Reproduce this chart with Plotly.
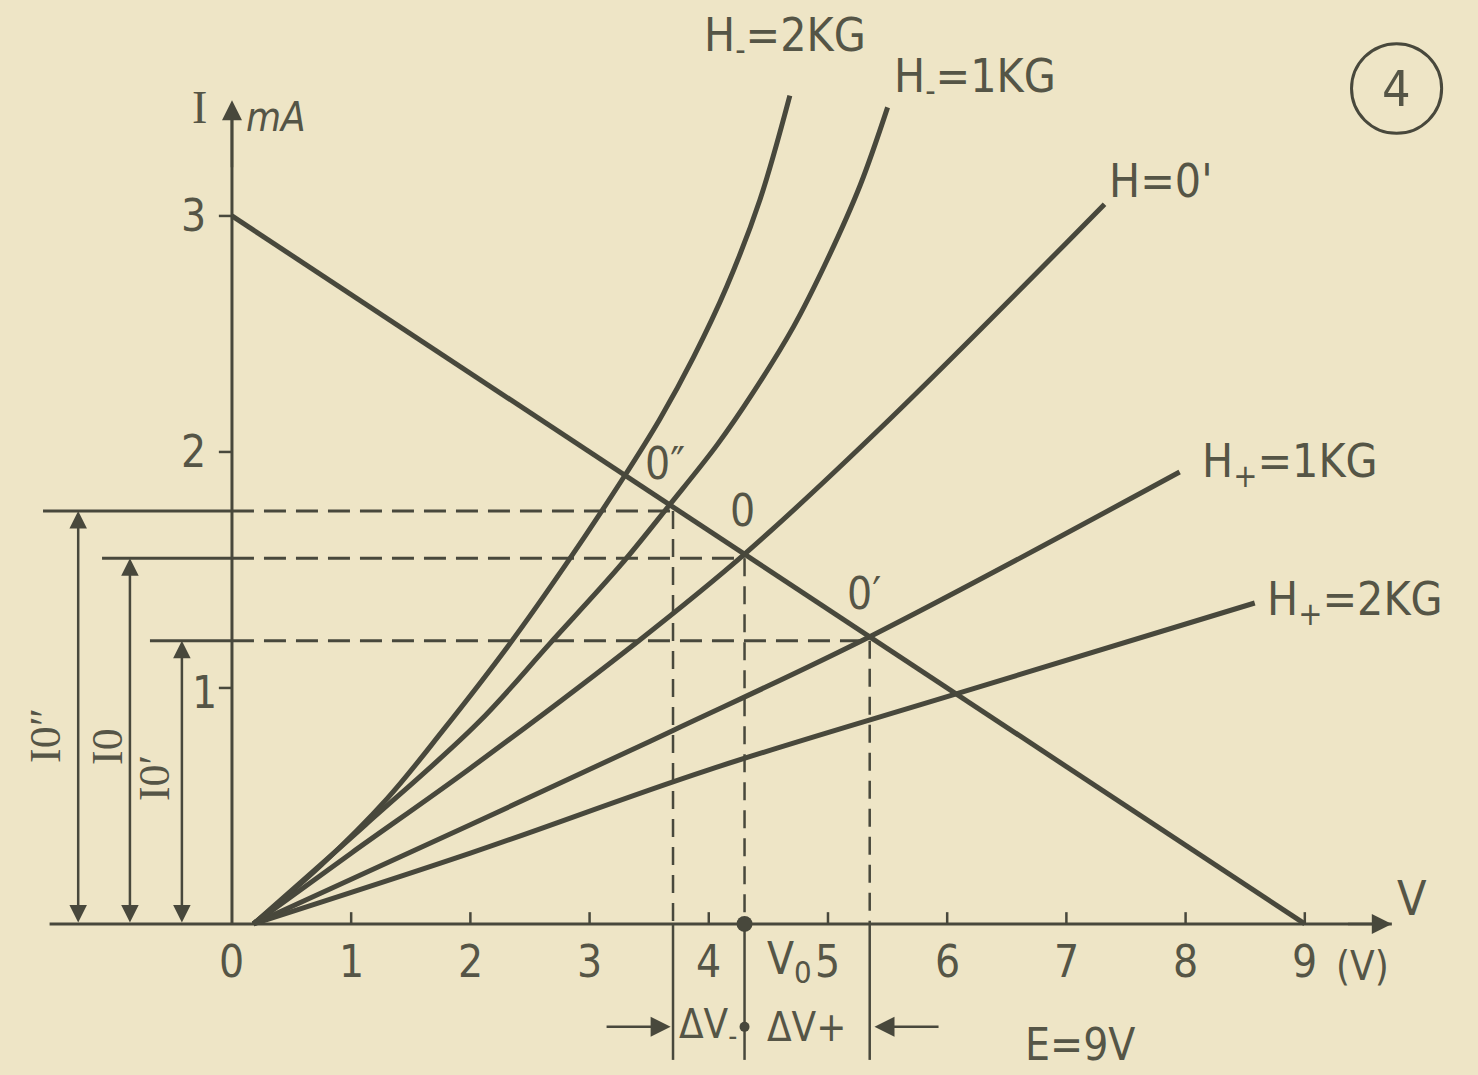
import plotly.graph_objects as go

# ---- data -------------------------------------------------------------
# load line  I = (E - V) / R ,  E = 9 V
load_v = [0, 9]
load_i = [3, 0]

# V-I characteristics of the magneto-diode for several field values
hm2_v = [0.18, 0.75, 1.30, 1.77, 2.32, 2.81, 3.27, 3.59, 3.87, 4.15, 4.43, 4.68]
hm2_i = [0.0, 0.25, 0.53, 0.82, 1.18, 1.53, 1.88, 2.14, 2.40, 2.70, 3.07, 3.51]

hm1_v = [0.18, 1.12, 2.06, 2.67, 3.26, 3.67, 4.07, 4.37, 4.71, 4.99, 5.27, 5.50]
hm1_i = [0.0, 0.42, 0.85, 1.19, 1.52, 1.775, 2.03, 2.25, 2.53, 2.81, 3.13, 3.46]

h0_v = [0.18, 1.0, 2.0, 3.40, 4.30, 5.5, 7.32]
h0_i = [0.0, 0.30, 0.66, 1.195, 1.567, 2.13, 3.05]

hp1_v = [0.18, 2.0, 3.70, 5.35, 7.95]
hp1_i = [0.0, 0.42, 0.82, 1.217, 1.915]

hp2_v = [0.18, 2.0, 3.98, 6.11, 8.58]
hp2_i = [0.0, 0.30, 0.65, 0.98, 1.36]

curve_labels = ["H<sub>-</sub>=2KG", "H<sub>-</sub>=1KG", "H=0'", "H<sub>+</sub>=1KG", "H<sub>+</sub>=2KG"]

# operating points O'', O, O'
op_names = ["0″", "0", "0′"]
op_v = [3.70, 4.30, 5.35]
op_i = [1.75, 1.55, 1.20]
op_current_labels = ["I0″", "I0", "I0′"]

x_ticks = [0, 1, 2, 3, 4, 5, 6, 7, 8, 9]
y_ticks = [1, 2, 3]

# ---- style ------------------------------------------------------------
PAPER = "rgb(238,229,198)"
INK = "rgb(72,72,60)"
TXT = "rgb(85,85,70)"
FONT = "Liberation Sans Narrow, DejaVu Sans Condensed, Liberation Sans, sans-serif"

fig = go.Figure()


def line(xs, ys, width=3, dash=None, shape="linear"):
    fig.add_trace(go.Scatter(
        x=xs, y=ys, mode="lines", hoverinfo="skip", showlegend=False,
        line=dict(color=INK, width=width, dash=dash, shape=shape, smoothing=1.0),
    ))


def arrow(x, y, ax, ay, both=False, size=1.6):
    fig.add_annotation(
        x=x, y=y, ax=ax, ay=ay, xref="x", yref="y", axref="x", ayref="y",
        text="", showarrow=True, arrowhead=2, arrowsize=size, arrowwidth=2.5,
        arrowcolor=INK, arrowside="end+start" if both else "end",
    )


def label(x, y, text, size=44, angle=0, family=FONT, anchor="center"):
    fig.add_annotation(
        x=x, y=y, xref="x", yref="y", text=text, showarrow=False,
        textangle=angle, xanchor=anchor, yanchor="middle",
        font=dict(family=family, size=size, color=TXT),
    )


# axes
line([-1.53, 9.73], [0, 0], width=3)
line([0, 0], [0, 3.45], width=3)
arrow(9.73, 0, 9.35, 0)
arrow(0, 3.49, 0, 3.2)
for t in x_ticks[1:]:
    line([t, t], [0, 0.05], width=2.5)
for t in y_ticks:
    line([-0.11, 0], [t, t], width=2.5)

# characteristic curves and load line
for vs, is_ in [(hm2_v, hm2_i), (hm1_v, hm1_i), (h0_v, h0_i), (hp1_v, hp1_i), (hp2_v, hp2_i)]:
    line(vs, is_, width=5, shape="spline")
line(load_v, load_i, width=5)

# guides from the operating points
solid_start = [-1.585, -1.09, -0.688]
arrow_x = [-1.29, -0.856, -0.42]
for v, i, x0, xa in zip(op_v, op_i, solid_start, arrow_x):
    line([x0, 0], [i, i], width=3)
    line([0, v], [i, i], width=3, dash="22px,10px")
    line([v, v], [i, 0], width=2.5, dash="18px,10px")
    line([v, v], [0, -0.576], width=2.5)
    arrow(xa, i, xa, 0, both=True, size=1.4)

# V0 marker and ΔV arrows
fig.add_trace(go.Scatter(x=[op_v[1]], y=[0], mode="markers", hoverinfo="skip", showlegend=False,
                         marker=dict(color=INK, size=16)))
fig.add_trace(go.Scatter(x=[op_v[1]], y=[-0.436], mode="markers", hoverinfo="skip", showlegend=False,
                         marker=dict(color=INK, size=10)))
arrow(op_v[0] - 0.02, -0.436, 3.13, -0.436)
arrow(op_v[2] + 0.04, -0.436, 5.94, -0.436)

# tick labels
for t in x_ticks:
    label(t, -0.16, str(t))
label(-0.32, 3.0, "3")
label(-0.32, 2.0, "2")
label(-0.23, 0.98, "1")
label(4.68, -0.16, "V<sub>0</sub>")
label(9.48, -0.18, "(V)", size=40)
label(9.9, 0.11, "V", size=48)
label(-0.27, 3.46, "I", size=46, family="Liberation Serif, DejaVu Serif, serif")
label(0.37, 3.42, "<i>mA</i>", size=40)

# curve names
label_pos = [(4.64, 3.75), (6.23, 3.58), (7.79, 3.15), (8.88, 1.945), (9.42, 1.36)]
for (x, y), t in zip(label_pos, curve_labels):
    label(x, y, t, size=46)

# operating point names
op_label_pos = [(3.63, 1.95), (4.28, 1.75), (5.30, 1.40)]
for (x, y), t in zip(op_label_pos, op_names):
    label(x, y, t, size=44)

# current labels (vertical)
cur_label_pos = [(-1.57, 0.80), (-1.04, 0.75), (-0.65, 0.62)]
for (x, y), t in zip(cur_label_pos, op_current_labels):
    label(x, y, t, size=44, angle=-90, family="Liberation Serif, DejaVu Serif, serif")

# ΔV labels and supply voltage
label(3.99, -0.436, "ΔV<sub>-</sub>", size=40)
label(4.82, -0.436, "ΔV+", size=40)
label(7.11, -0.51, "E=9V", size=44)

# figure number
fig.add_shape(type="circle", xref="x", yref="y", x0=9.77 - 0.378, x1=9.77 + 0.378,
              y0=3.54 - 0.19, y1=3.54 + 0.19, line=dict(color=INK, width=3))
label(9.77, 3.54, "4", size=50)

fig.update_layout(
    width=1478, height=1075, margin=dict(l=0, r=0, t=0, b=0),
    paper_bgcolor=PAPER, plot_bgcolor=PAPER, showlegend=False,
    xaxis=dict(range=[-1.946, 10.453], visible=False, fixedrange=True),
    yaxis=dict(range=[-0.640, 3.915], visible=False, fixedrange=True),
)

fig.write_html("out.html")
